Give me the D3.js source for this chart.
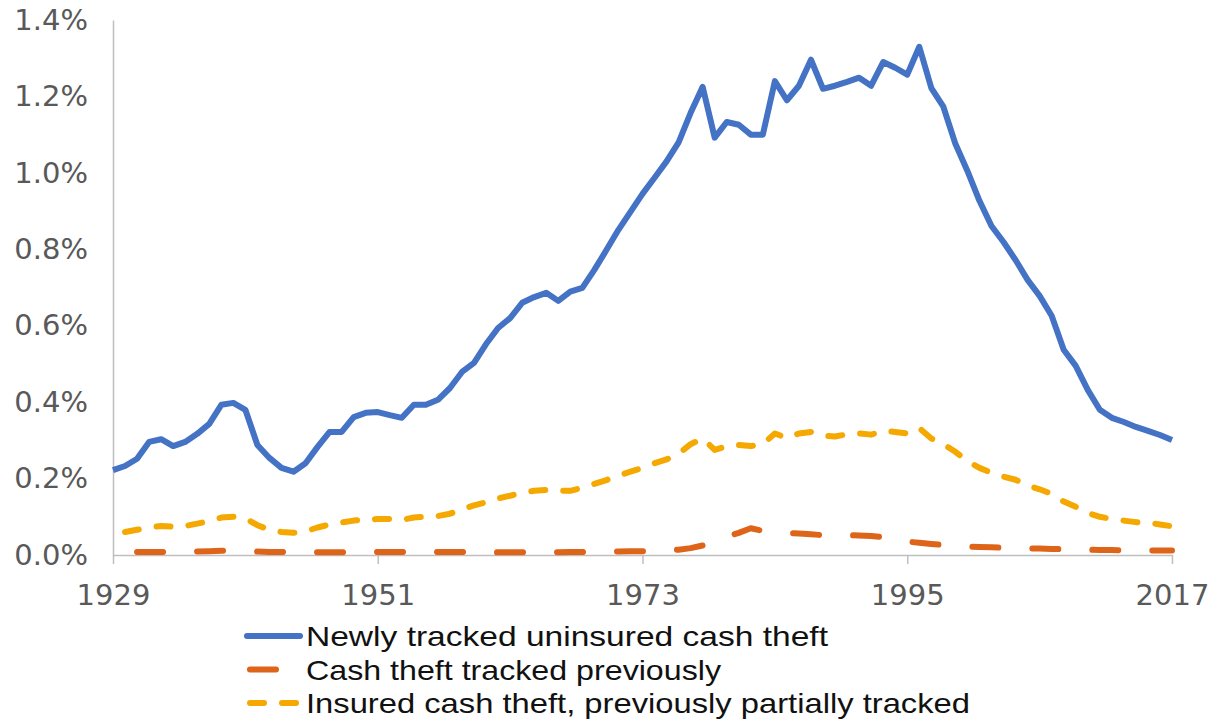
<!DOCTYPE html>
<html>
<head>
<meta charset="utf-8">
<script src="https://cdn.jsdelivr.net/npm/d3@7"></script>
<style>
    body { margin: 0; background: #fff; }
    svg { display: block; }
</style>
</head>
<body>
<svg id="chart" width="1214" height="721"></svg>
<script>
// percent of GDP
let firstYear = 1929
let lastYear = 2017

let uninsuredValues = [
    0.222, 0.233, 0.252, 0.296, 0.303, 0.285, 0.296, 0.317, 0.343, 0.393,
    0.398, 0.380, 0.288, 0.254, 0.228, 0.218, 0.240, 0.283, 0.322, 0.322,
    0.361, 0.372, 0.374, 0.366, 0.359, 0.393, 0.393, 0.406, 0.437, 0.479,
    0.503, 0.552, 0.594, 0.620, 0.660, 0.675, 0.686, 0.665, 0.689, 0.699,
    0.746, 0.798, 0.851, 0.898, 0.945, 0.987, 1.030, 1.080, 1.157, 1.225,
    1.092, 1.133, 1.126, 1.100, 1.100, 1.240, 1.190, 1.228, 1.296, 1.220,
    1.228, 1.238, 1.249, 1.228, 1.290, 1.275, 1.257, 1.330, 1.222, 1.173,
    1.076, 1.005, 0.927, 0.861, 0.819, 0.772, 0.720, 0.678, 0.626, 0.537,
    0.495, 0.432, 0.380, 0.359, 0.348, 0.335, 0.325, 0.314, 0.301
]

// starts 1931
let previousStart = 1931
let previousValues = [
    0.008, 0.008, 0.008, 0.008, 0.009, 0.009, 0.010,
    0.011, 0.011, 0.010,
    0.009, 0.008, 0.008, 0.007, 0.007, 0.007, 0.007, 0.007, 0.007, 0.007,
    0.008, 0.008, 0.008, 0.008, 0.008, 0.008, 0.008, 0.008, 0.008, 0.008,
    0.007, 0.007, 0.007, 0.007, 0.007, 0.007, 0.008, 0.008, 0.009, 0.009,
    0.009, 0.010, 0.010, 0.010,
    0.011, 0.014, 0.018, 0.025, 0.035, 0.048, 0.058, 0.070, 0.063, 0.060,
    0.058, 0.056, 0.054, 0.052, 0.051, 0.052, 0.051, 0.050, 0.047, 0.040,
    0.035, 0.032, 0.029, 0.026, 0.024, 0.022, 0.021, 0.020, 0.019, 0.018,
    0.017, 0.017, 0.016, 0.015, 0.015, 0.014, 0.013, 0.013, 0.012, 0.012,
    0.012, 0.012, 0.012
]

// starts 1930
let insuredStart = 1930
let insuredValues = [
    0.060, 0.066, 0.072, 0.076, 0.074, 0.076, 0.082, 0.089, 0.098, 0.100,
    0.096, 0.078, 0.066, 0.060, 0.058, 0.062, 0.072, 0.080, 0.085, 0.090,
    0.093, 0.094, 0.094, 0.092, 0.098, 0.100, 0.102, 0.108, 0.120, 0.130,
    0.138, 0.148, 0.155, 0.163, 0.168, 0.170, 0.168, 0.168, 0.176, 0.186,
    0.196, 0.208, 0.218, 0.228, 0.240, 0.250, 0.265, 0.290, 0.305, 0.275,
    0.285, 0.288, 0.285, 0.290, 0.318, 0.306, 0.318, 0.322, 0.312, 0.310,
    0.316, 0.318, 0.315, 0.325, 0.322, 0.318, 0.332, 0.305, 0.290, 0.270,
    0.245, 0.228, 0.215, 0.205, 0.197, 0.182, 0.172, 0.160, 0.140, 0.126,
    0.110, 0.100, 0.094, 0.090, 0.086, 0.084, 0.080, 0.075
]

let xTickValues = [1929, 1951, 1973, 1995, 2017]
let yTickValues = [0, 0.2, 0.4, 0.6, 0.8, 1.0, 1.2, 1.4]

let seriesNames = [
    "Newly tracked uninsured cash theft",
    "Cash theft tracked previously",
    "Insured cash theft, previously partially tracked"
]

function setupChart() {
    let svg = d3.select("#chart")

    let margin = { top: 20, left: 113, right: 42, bottom: 166 }
    let width = +svg.attr("width") - margin.left - margin.right
    let height = +svg.attr("height") - margin.top - margin.bottom

    let xScale = d3.scaleLinear()
        .domain([firstYear, lastYear])
        .range([0, width])

    let yScale = d3.scaleLinear()
        .domain([0, 1.4])
        .range([height, 0])

    let toPoints = (values, start) => values.map((v, i) => ({ year: start + i, value: v }))

    let series = [
        { name: seriesNames[0], data: toPoints(uninsuredValues, firstYear), color: "#4472C4", dash: null, textWidth: 522 },
        { name: seriesNames[1], data: toPoints(previousValues, previousStart), color: "#DD6418", dash: "26,34", textWidth: 415 },
        { name: seriesNames[2], data: toPoints(insuredValues, insuredStart), color: "#F5A800", dash: "14,18", textWidth: 664 }
    ]

    let g = svg.append("g")
        .attr("transform", "translate(" + margin.left + "," + margin.top + ")")

    let yAxis = d3.axisLeft(yScale)
        .tickValues(yTickValues)
        .tickSize(0)
        .tickPadding(25)
        .tickFormat(d => d.toFixed(1) + "%")

    let xAxis = d3.axisBottom(xScale)
        .tickValues(xTickValues)
        .tickSize(9)
        .tickSizeOuter(0)
        .tickPadding(20)
        .tickFormat(d3.format("d"))

    let gY = g.append("g").call(yAxis)
    let gX = g.append("g")
        .attr("transform", "translate(0," + height + ")")
        .call(xAxis)

    for (let ax of [gX, gY]) {
        ax.select(".domain").attr("stroke", "#BFBFBF").attr("stroke-width", 1.5)
        ax.selectAll(".tick line").attr("stroke", "#BFBFBF").attr("stroke-width", 1.5)
        ax.selectAll(".tick text")
            .attr("fill", "#595959")
            .style("font-family", "'DejaVu Sans', sans-serif")
            .style("font-size", "29px")
    }

    let line = d3.line()
        .x(d => xScale(d.year))
        .y(d => yScale(d.value))

    // draw back to front so the blue line sits on top
    g.selectAll(".series")
        .data(series.slice().reverse())
        .enter().append("path")
            .attr("class", "series")
            .attr("d", d => line(d.data))
            .attr("fill", "none")
            .attr("stroke", d => d.color)
            .attr("stroke-width", 6)
            .attr("stroke-dasharray", d => d.dash)
            .attr("stroke-linecap", d => d.dash ? "round" : "butt")
            .attr("stroke-linejoin", "round")

    // legend below the axis
    let legend = svg.append("g")
        .attr("transform", "translate(250,636)")

    let rows = legend.selectAll(".legend-row")
        .data(series)
        .enter().append("g")
            .attr("class", "legend-row")
            .attr("transform", (d, i) => "translate(0," + (i * 33.5) + ")")

    rows.append("line")
        .attr("x1", d => d.dash ? 0 : -3)
        .attr("x2", 50)
        .attr("stroke", d => d.color)
        .attr("stroke-width", 6)
        .attr("stroke-dasharray", d => d.dash === "26,34" ? "26,40" : d.dash)
        .attr("stroke-linecap", "round")

    rows.append("text")
        .attr("x", 56)
        .attr("dy", "0.36em")
        .attr("fill", "#111")
        .attr("textLength", d => d.textWidth)
        .attr("lengthAdjust", "spacingAndGlyphs")
        .style("font-family", "'Liberation Sans', sans-serif")
        .style("font-size", "28px")
        .text(d => d.name)
}

setupChart()
</script>
</body>
</html>
